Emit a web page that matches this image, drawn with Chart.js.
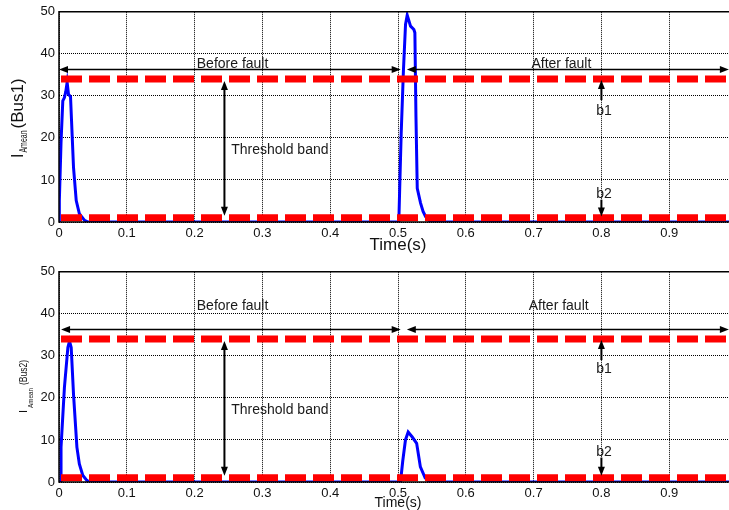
<!DOCTYPE html>
<html>
<head>
<meta charset="utf-8">
<script src="https://cdn.jsdelivr.net/npm/chart.js@4.4.0/dist/chart.umd.min.js"></script>
<style>
html,body{margin:0;padding:0;background:#fff;overflow:hidden;width:729px;height:510px;position:relative;}
#w1{position:absolute;left:0;top:0;width:750px;height:260px;}
#w2{position:absolute;left:0;top:260px;width:750px;height:250px;}
canvas{display:block;}
</style>
</head>
<body>
<div id="w1"><canvas id="c1" width="750" height="260" style="width:750px;height:260px"></canvas></div>
<div id="w2"><canvas id="c2" width="750" height="250" style="width:750px;height:250px"></canvas></div>
<script>
// ---------- DATA ----------
const timeTicks = [0, 0.1, 0.2, 0.3, 0.4, 0.5, 0.6, 0.7, 0.8, 0.9, 1];
const currentTicks = [0, 10, 20, 30, 40, 50];

const bus1Time    = [0, 0.0005, 0.003, 0.0056, 0.008, 0.010, 0.012, 0.014, 0.017, 0.0214, 0.0254, 0.030, 0.0377, 0.043,
                     0.5012, 0.503, 0.5047, 0.508, 0.5111, 0.5136, 0.5185, 0.5234, 0.5249, 0.5265, 0.5284, 0.5333, 0.537, 0.5407, 0.548, 1];
const bus1Current = [0, 5, 19, 28.8, 29.6, 31, 33.2, 30.4, 29.8, 13, 5.1, 2, 0.4, 0,
                     0, 11, 21, 36, 47, 49.2, 46.6, 45.8, 45, 25, 8, 4.5, 2.5, 1.3, 0, 0];

const bus2Time    = [0, 0.003, 0.003, 0.008, 0.0131, 0.0155, 0.018, 0.0214, 0.0264, 0.030, 0.035, 0.041, 0.045,
                     0.5037, 0.507, 0.511, 0.515, 0.521, 0.5275, 0.533, 0.540, 0.547, 1];
const bus2Current = [0, 0, 8.3, 22.5, 32, 33.5, 32, 20.9, 8.3, 4.3, 1.6, 0.4, 0,
                     0, 5, 10, 11.9, 10.7, 9.2, 3.6, 1, 0, 0];

const thresholdB1 = 34;
const thresholdB2 = 1;
const thresholdSpan = [0, 1];

// annotation texts / arrows (in data units)
const bus1Notes = {
  before: {label: 'Before fault', x: 0.256, y: 37.6, arrowY: 36.3, x0: 0.0, x1: 0.504},
  after:  {label: 'After fault',  x: 0.741, y: 37.6, arrowY: 36.3, x0: 0.513, x1: 0.988},
  band:   {label: 'Threshold band', x: 0.254, y: 17.1, arrowX: 0.244},
  b1:     {label: 'b1', x: 0.804, y: 26.3, from: 29, to: 33.8},
  b2:     {label: 'b2', x: 0.804, y: 6.6, from: 5.3, to: 1.3}
};
const bus2Notes = {
  before: {label: 'Before fault', x: 0.256, y: 41.9, arrowY: 36.5, x0: 0.003, x1: 0.504},
  after:  {label: 'After fault',  x: 0.737, y: 41.9, arrowY: 36.5, x0: 0.513, x1: 0.988},
  band:   {label: 'Threshold band', x: 0.254, y: 17.1, arrowX: 0.244},
  b1:     {label: 'b1', x: 0.804, y: 26.8, from: 29, to: 33.8},
  b2:     {label: 'b2', x: 0.804, y: 7.2, from: 5.8, to: 1.5}
};

// ---------- DRAWING ----------
const FONT = '"Liberation Sans", Arial, sans-serif';

function head(ctx, x, y, dir) {
  const L = 9, W = 3.5;
  ctx.beginPath();
  if (dir === 'left')  { ctx.moveTo(x, y); ctx.lineTo(x + L, y - W); ctx.lineTo(x + L, y + W); }
  if (dir === 'right') { ctx.moveTo(x, y); ctx.lineTo(x - L, y - W); ctx.lineTo(x - L, y + W); }
  if (dir === 'up')    { ctx.moveTo(x, y); ctx.lineTo(x - W, y + L); ctx.lineTo(x + W, y + L); }
  if (dir === 'down')  { ctx.moveTo(x, y); ctx.lineTo(x - W, y - L); ctx.lineTo(x + W, y - L); }
  ctx.closePath();
  ctx.fill();
}

const annotPlugin = {
  id: 'annot',
  afterDatasetsDraw(chart, args, opts) {
    const ctx = chart.ctx, xs = chart.scales.x, ys = chart.scales.y, ca = chart.chartArea;
    const n = opts.notes;
    const X = v => xs.getPixelForValue(v), Y = v => ys.getPixelForValue(v);
    ctx.save();
    ctx.strokeStyle = '#000'; ctx.fillStyle = '#000';
    // horizontal arrows
    ctx.lineWidth = 1.6;
    [n.before, n.after].forEach(a => {
      const y = Math.round(Y(a.arrowY)) + 0.5;
      ctx.beginPath(); ctx.moveTo(X(a.x0) + 4, y); ctx.lineTo(X(a.x1) - 4, y); ctx.stroke();
      head(ctx, X(a.x0), y, 'left'); head(ctx, X(a.x1), y, 'right');
    });
    // threshold band arrow
    ctx.lineWidth = 2;
    const bx = X(n.band.arrowX);
    const yt = Y(thresholdB1) + 2, yb = Y(thresholdB2) - 2;
    ctx.beginPath(); ctx.moveTo(bx, yt + 4); ctx.lineTo(bx, yb - 4); ctx.stroke();
    head(ctx, bx, yt, 'up'); head(ctx, bx, yb, 'down');
    // b1 / b2
    const px = X(0.8);
    ctx.lineWidth = 2;
    ctx.beginPath(); ctx.moveTo(px, Y(n.b1.from)); ctx.lineTo(px, Y(n.b1.to) + 4); ctx.stroke();
    head(ctx, px, Y(n.b1.to), 'up');
    ctx.beginPath(); ctx.moveTo(px, Y(n.b2.from)); ctx.lineTo(px, Y(n.b2.to) - 4); ctx.stroke();
    head(ctx, px, Y(n.b2.to), 'down');
    // texts
    ctx.fillStyle = '#1a1a1a';
    ctx.font = '14px ' + FONT;
    ctx.textBaseline = 'middle';
    ctx.textAlign = 'center';
    [n.before, n.after, n.b1, n.b2].forEach(t => ctx.fillText(t.label, X(t.x), Y(t.y)));
    ctx.textAlign = 'left';
    ctx.fillText(n.band.label, X(n.band.x), Y(n.band.y));
    // frame
    ctx.strokeStyle = '#000'; ctx.lineWidth = 1.5;
    ctx.beginPath();
    ctx.moveTo(ca.left, ca.bottom); ctx.lineTo(ca.left, ca.top); ctx.lineTo(ca.right, ca.top);
    ctx.lineTo(ca.right, ca.bottom); ctx.closePath(); ctx.stroke();
    // x title
    const xt = opts.xTitle;
    ctx.fillStyle = '#111';
    ctx.font = xt.size + 'px ' + FONT;
    ctx.textAlign = 'center'; ctx.textBaseline = 'middle';
    ctx.fillText(xt.text, X(0.5), xt.y);
    // y title (rotated, with subscript)
    const yt2 = opts.yTitle;
    ctx.save();
    ctx.translate(yt2.x, yt2.y);
    ctx.rotate(-Math.PI / 2);
    ctx.textAlign = 'left'; ctx.textBaseline = 'alphabetic';
    let pos = 0;
    yt2.parts.forEach(p => {
      pos += p.gap || 0;
      ctx.save();
      ctx.font = p.size + 'px ' + FONT;
      ctx.translate(pos, p.dy || 0);
      ctx.scale(p.sx || 1, 1);
      ctx.fillText(p.text, 0, 0);
      ctx.restore();
      ctx.font = p.size + 'px ' + FONT;
      pos += ctx.measureText(p.text).width * (p.sx || 1);
    });
    ctx.restore();
    ctx.restore();
  }
};
Chart.register(annotPlugin);

function fmt(v) { return v === 0 ? '0' : String(Number(v.toFixed(1))); }

function makeChart(id, times, values, notes, xAxisH, xTitle, yTitle) {
  const blue = times.map((t, i) => ({x: t, y: values[i]}));
  const upper = thresholdSpan.map(t => ({x: t, y: thresholdB1}));
  const lower = thresholdSpan.map(t => ({x: t, y: thresholdB2}));
  const redStyle = {borderColor: '#ff0000', borderWidth: 7, borderDash: [21, 7], borderDashOffset: -2,
                    borderCapStyle: 'butt', pointRadius: 0, fill: false, tension: 0};
  return new Chart(document.getElementById(id), {
    type: 'line',
    data: {
      datasets: [
        Object.assign({data: upper}, redStyle),
        Object.assign({data: lower}, redStyle),
        {data: blue, borderColor: '#0000ff', borderWidth: 3, pointRadius: 0, fill: false, tension: 0}
      ]
    },
    options: {
      responsive: false,
      animation: false,
      events: [],
      layout: {padding: {top: 11, right: 13, left: 0, bottom: 0}},
      plugins: {
        legend: {display: false},
        tooltip: {enabled: false},
        annot: {notes: notes, xTitle: xTitle, yTitle: yTitle}
      },
      scales: {
        x: {
          type: 'linear', min: 0, max: 1,
          afterFit(s) { s.height = xAxisH; },
          afterBuildTicks(s) { s.ticks = timeTicks.map(v => ({value: v})); },
          ticks: {font: {family: FONT, size: 13}, color: '#111', padding: 4, maxRotation: 0, autoSkip: false, callback: v => fmt(v)},
          grid: {color: '#000', lineWidth: 1, drawTicks: false},
          border: {display: false, dash: [1, 1]}
        },
        y: {
          min: 0, max: 50,
          afterFit(s) { s.width = 59; },
          afterBuildTicks(s) { s.ticks = currentTicks.map(v => ({value: v})); },
          ticks: {font: {family: FONT, size: 13}, color: '#111', padding: 4, callback: v => String(v)},
          grid: {color: '#000', lineWidth: 1, drawTicks: false},
          border: {display: false, dash: [1, 1]}
        }
      }
    }
  });
}

makeChart('c1', bus1Time, bus1Current, bus1Notes, 38,
  {text: 'Time(s)', size: 17, y: 245},
  {x: 23, y: 158, parts: [
    {text: 'I', size: 16},
    {text: 'Amean', size: 10, sx: 0.7, dy: 3.5, gap: 1},
    {text: '(Bus1)', size: 17, gap: 2}
  ]});

makeChart('c2', bus2Time, bus2Current, bus2Notes, 28,
  {text: 'Time(s)', size: 14, y: 242.7},
  {x: 27, y: 153, parts: [
    {text: 'I', size: 11},
    {text: 'Amean', size: 7, sx: 0.9, dy: 6, gap: 2},
    {text: '(Bus2)', size: 10, sx: 0.85, gap: 3}
  ]});
</script>
</body>
</html>
